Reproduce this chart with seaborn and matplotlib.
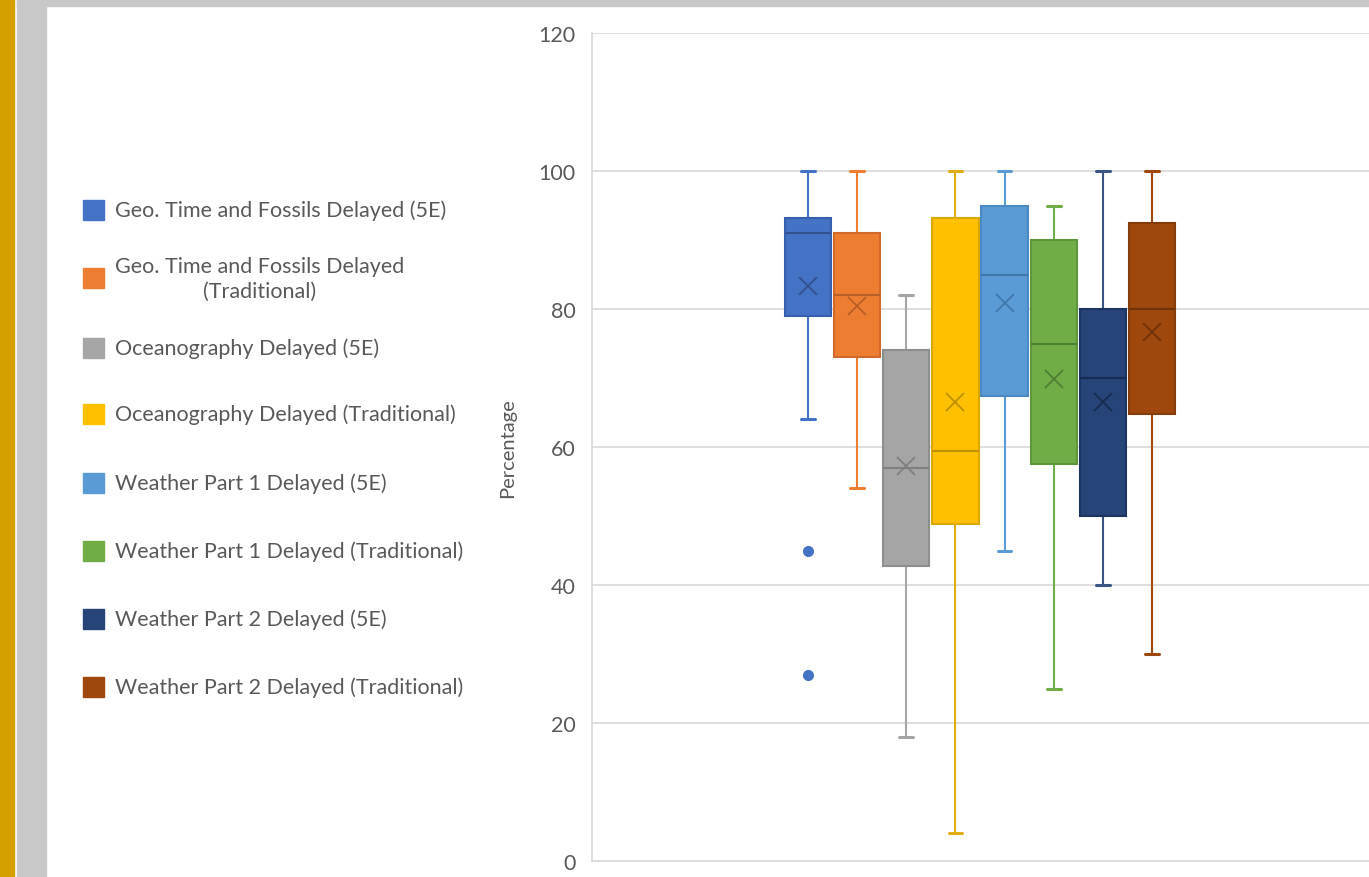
import matplotlib
matplotlib.use("Agg")
import matplotlib.pyplot as plt
from matplotlib.patches import Rectangle
import seaborn as sns

# ---- data -------------------------------------------------------------
labels = [
    "Geo. Time and Fossils Delayed (5E)",
    "Geo. Time and Fossils Delayed\n(Traditional)",
    "Oceanography Delayed (5E)",
    "Oceanography Delayed (Traditional)",
    "Weather Part 1 Delayed (5E)",
    "Weather Part 1 Delayed (Traditional)",
    "Weather Part 2 Delayed (5E)",
    "Weather Part 2 Delayed (Traditional)",
]
whisker_low = [64, 54, 18, 4, 45, 25, 40, 30]
q1 = [79, 73, 42.7, 48.8, 67.4, 57.5, 50, 64.8]
median = [91, 82, 57, 59.4, 85, 75, 70, 80]
q3 = [93.2, 91, 74, 93.2, 95, 90, 80, 92.4]
whisker_high = [100, 100, 82, 100, 100, 95, 100, 100]
mean = [83.4, 80.5, 57.3, 66.5, 80.9, 69.8, 66.5, 76.6]
outliers = [[45, 27], [], [], [], [], [], [], []]
y_ticks = [0, 20, 40, 60, 80, 100, 120]

fill_colors = ["#4472C4", "#ED7D31", "#A5A5A5", "#FFC000",
               "#5B9BD5", "#70AD47", "#264478", "#9E480E"]
edge_colors = ["#3660AE", "#D0692A", "#8E8E8E", "#DDA800",
               "#4A89C3", "#5E963B", "#1C3560", "#873C0B"]
mark_colors = ["#2F528F", "#B75F24", "#7F7F7F", "#BF9000",
               "#3F77AB", "#507E33", "#172C50", "#6F320A"]
line_colors = ["#4472C4", "#ED7D31", "#A5A5A5", "#E0AE10",
               "#5B9BD5", "#70AD47", "#3A5585", "#9E480E"]

# ---- style ------------------------------------------------------------
sns.set_theme(style="white")
plt.rcParams["font.family"] = ["Lato", "DejaVu Sans"]
text_color = "#595959"
grid_color = "#D9D9D9"

W, H = 1369, 878
fig = plt.figure(figsize=(W / 100, H / 100), dpi=100)
fig.patch.set_facecolor("white")

# page frame: gold rule, grey margins
def px_rect(x0, y0, x1, y1, color):
    fig.patches.append(Rectangle((x0 / W, 1 - y1 / H), (x1 - x0) / W, (y1 - y0) / H,
                                 transform=fig.transFigure, color=color, zorder=0))

px_rect(0, 0, 14, H, "#D4A000")
px_rect(17, 0, 46, H, "#C8C8C8")
px_rect(17, 0, W, 7, "#C8C8C8")

# ---- axes -------------------------------------------------------------
ax_left, ax_right, ax_top, ax_bottom = 592, 1369, 34, 862
ax = fig.add_axes([ax_left / W, 1 - ax_bottom / H,
                   (ax_right - ax_left) / W, (ax_bottom - ax_top) / H])
ax.set_facecolor("white")

positions = list(range(1, len(labels) + 1))
stats = []
for i in range(len(labels)):
    stats.append(dict(whislo=whisker_low[i], q1=q1[i], med=median[i], q3=q3[i],
                      whishi=whisker_high[i], mean=mean[i], fliers=outliers[i]))

arts = ax.bxp(stats, positions=positions, widths=0.94, capwidths=0.28,
              patch_artist=True, showmeans=True, showfliers=True,
              manage_ticks=False)

for i in range(len(labels)):
    box = arts["boxes"][i]
    box.set_facecolor(fill_colors[i])
    box.set_edgecolor(edge_colors[i])
    box.set_linewidth(1.5)
    box.set_zorder(3)
    arts["medians"][i].set_color(mark_colors[i])
    arts["medians"][i].set_linewidth(1.5)
    arts["medians"][i].set_zorder(4)
    for w in arts["whiskers"][2 * i:2 * i + 2]:
        w.set_color(line_colors[i])
        w.set_linewidth(1.5)
    for c in arts["caps"][2 * i:2 * i + 2]:
        c.set_color(line_colors[i])
        c.set_linewidth(2.2)
    m = arts["means"][i]
    m.set_marker("x")
    m.set_markersize(13)
    m.set_markeredgewidth(1.3)
    m.set_markeredgecolor(mark_colors[i])
    m.set_zorder(5)
    f = arts["fliers"][i]
    f.set_marker("o")
    f.set_markersize(7)
    f.set_markerfacecolor(fill_colors[i])
    f.set_markeredgecolor(fill_colors[i])

# horizontal position of the group within the plot area
unit = 49.14
first_center = 808
x_min = 1 - (first_center - ax_left) / unit
x_max = x_min + (ax_right - ax_left) / unit
ax.set_xlim(x_min, x_max)
ax.set_ylim(0, 120)
ax.set_yticks(y_ticks)
ax.set_yticklabels([str(t) for t in y_ticks], fontsize=15.5, color=text_color)
ax.set_xticks([])
ax.tick_params(axis="y", length=0, pad=12)
ax.yaxis.grid(True, color=grid_color, linewidth=1.2, zorder=0)
ax.set_axisbelow(True)
for side in ["top", "right"]:
    ax.spines[side].set_visible(False)
for side in ["left", "bottom"]:
    ax.spines[side].set_color(grid_color)
    ax.spines[side].set_linewidth(1.2)
ax.set_ylabel("Percentage", fontsize=14.5, color=text_color, labelpad=16)

# ---- legend -----------------------------------------------------------
legend_y = [211, 279, 349, 415, 484, 552, 620, 688]
for i, lab in enumerate(labels):
    cy = legend_y[i]
    px_rect(83, cy - 10, 104, cy + 10, fill_colors[i])
    fig.text(115 / W, 1 - cy / H, lab, fontsize=15.5, color=text_color,
             ha="left", va="center", multialignment="center",
             linespacing=1.3)

fig.savefig("out.png", dpi=100, facecolor=fig.get_facecolor())
